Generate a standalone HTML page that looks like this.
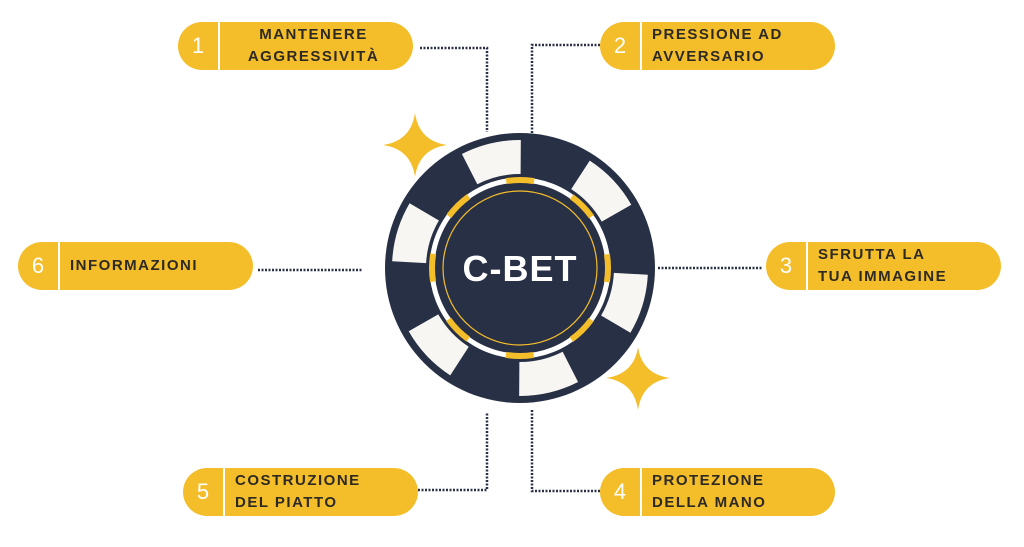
<!DOCTYPE html>
<html><head><meta charset="utf-8"><style>
body{margin:0;width:1024px;height:547px;background:#fff;position:relative;overflow:hidden;font-family:"Liberation Sans",sans-serif}
.pill{position:absolute;width:235px;height:48px;background:#F4BD2A;border-radius:24px}
.pill .n{position:absolute;left:0;width:40px;top:0;height:48px;line-height:48px;text-align:center;color:#fff;font-size:22px}
.pill .d{position:absolute;left:40px;top:0;width:2px;height:48px;background:#fff}
.pill .t{position:absolute;left:52px;top:0;height:48px;display:flex;flex-direction:column;justify-content:center;color:#2d2a24;font-weight:bold;font-size:15px;letter-spacing:1.5px;line-height:22px;white-space:nowrap}
.c{text-align:center;left:44px!important;right:8px}
</style></head><body>
<svg width="1024" height="547" style="position:absolute;left:0;top:0">
<g fill="none" stroke="#2a3045" stroke-width="2.5" stroke-dasharray="2 1.5">
<path d="M420 48 H487 V132"/>
<path d="M600 45 H532 V135"/>
<path d="M258 270 H363"/>
<path d="M658 268 H762"/>
<path d="M418 490 H487 V412"/>
<path d="M600 491 H532 V410"/>
</g>
<circle cx="520" cy="268" r="135" fill="#283046"/>
<circle cx="520" cy="268" r="111" fill="none" stroke="#f7f6f2" stroke-width="34" stroke-dasharray="53 63.2" transform="rotate(-117 520 268)"/>
<circle cx="520" cy="268" r="88" fill="none" stroke="#fff" stroke-width="5"/>
<circle cx="520" cy="268" r="88" fill="none" stroke="#F4BD2A" stroke-width="6" stroke-dasharray="28 41.1" transform="rotate(-99 520 268)"/>
<circle cx="520" cy="268" r="77" fill="none" stroke="#F4BD2A" stroke-width="1.2"/>
<text x="520" y="281" text-anchor="middle" fill="#fff" font-family="Liberation Sans" font-weight="bold" font-size="36" letter-spacing="1">C-BET</text>
<path d="M415 113 Q419 141 447 145 Q419 149 415 177 Q411 149 383 145 Q411 141 415 113Z" fill="#F4BD2A"/>
<path d="M638 347 Q642 374 670 378 Q642 382 638 410 Q634 382 606 378 Q634 374 638 347Z" fill="#F4BD2A"/>
</svg>
<div class="pill" style="left:178px;top:22px"><div class="n">1</div><div class="d"></div><div class="t c">MANTENERE<br>AGGRESSIVITÀ</div></div>
<div class="pill" style="left:600px;top:22px"><div class="n">2</div><div class="d"></div><div class="t">PRESSIONE AD<br>AVVERSARIO</div></div>
<div class="pill" style="left:18px;top:242px"><div class="n">6</div><div class="d"></div><div class="t">INFORMAZIONI</div></div>
<div class="pill" style="left:766px;top:242px"><div class="n">3</div><div class="d"></div><div class="t">SFRUTTA LA<br>TUA IMMAGINE</div></div>
<div class="pill" style="left:183px;top:468px"><div class="n">5</div><div class="d"></div><div class="t">COSTRUZIONE<br>DEL PIATTO</div></div>
<div class="pill" style="left:600px;top:468px"><div class="n">4</div><div class="d"></div><div class="t">PROTEZIONE<br>DELLA MANO</div></div>
</body></html>
